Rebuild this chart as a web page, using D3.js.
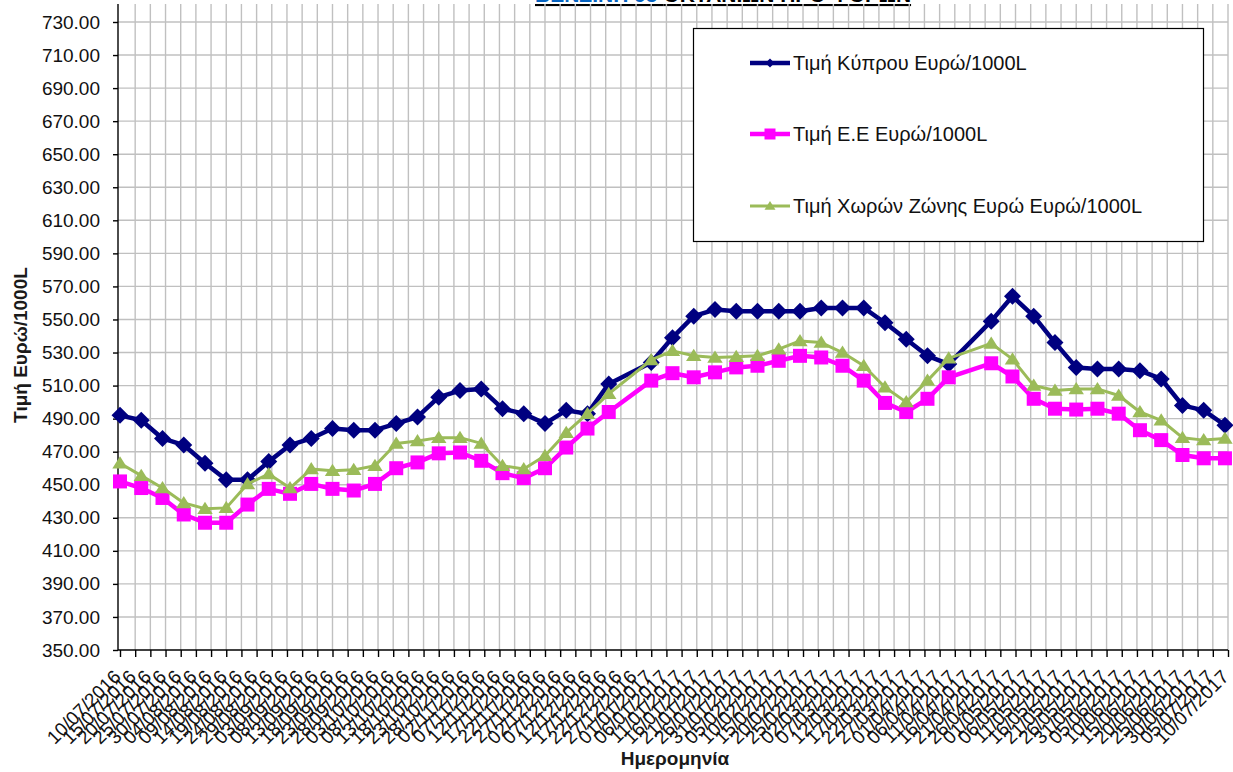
<!DOCTYPE html>
<html>
<head>
<meta charset="utf-8">
<script src="https://cdn.jsdelivr.net/npm/d3@7"></script>
<style>
body { margin: 0; background: #fff; }
text { font-family: "Liberation Sans", Arial, sans-serif; }
</style>
</head>
<body>
<svg id="chart" width="1233" height="772"></svg>
<script>
// weekly observations (no data for 25/12/2016 and 16/04/2017)
var dates = [
    "10/07/2016", "17/07/2016", "24/07/2016", "31/07/2016", "07/08/2016", "14/08/2016", "21/08/2016", "28/08/2016",
    "04/09/2016", "11/09/2016", "18/09/2016", "25/09/2016", "02/10/2016", "09/10/2016", "16/10/2016", "23/10/2016",
    "30/10/2016", "06/11/2016", "13/11/2016", "20/11/2016", "27/11/2016", "04/12/2016", "11/12/2016", "18/12/2016",
    "01/01/2017", "08/01/2017", "15/01/2017", "22/01/2017", "29/01/2017", "05/02/2017", "12/02/2017", "19/02/2017",
    "26/02/2017", "05/03/2017", "12/03/2017", "19/03/2017", "26/03/2017", "02/04/2017", "09/04/2017",
    "23/04/2017", "30/04/2017", "07/05/2017", "14/05/2017", "21/05/2017", "28/05/2017", "04/06/2017", "11/06/2017",
    "18/06/2017", "25/06/2017", "02/07/2017", "09/07/2017"
];

var cyprus = [
    492, 489, 478, 474, 463, 453, 453, 464, 474, 478, 484, 483, 483, 487, 491, 503,
    507, 508, 496, 493, 487, 495, 493, 511,
    524, 539, 552, 556, 555, 555, 555, 555, 557, 557, 557, 548, 538, 528, 523,
    549, 564, 552, 536, 521, 520, 520, 519, 514, 498, 495, 486
];

var eu = [
    452, 448, 442, 432, 427, 427, 438, 447.5, 444.5, 450.5, 447.5, 446.5, 450.5, 460, 463.5, 469,
    469.5, 464.5, 457, 454, 460, 472.5, 484, 494,
    513, 517.5, 515, 518, 521, 522, 525, 528, 527, 522, 513, 499.5, 494, 502, 515,
    523.5, 515.5, 502, 496, 495.5, 496, 493, 483, 477, 468, 466, 466
];

var eurozone = [
    463, 455.5, 448, 439, 435.5, 436, 450.5, 456.5, 448, 459.5, 458.5, 459, 461.5, 475, 476.5, 478.5,
    478.5, 475, 461.5, 459.5, 467.5, 481.5, 493, 505,
    525.5, 531, 528, 527, 527.5, 528, 532, 537, 536, 530, 522, 509, 500, 513, 526.5,
    535.5, 526, 510, 507, 508, 508, 504, 494, 489, 478.5, 477, 478
];

var seriesNames = ["Τιμή Κύπρου Ευρώ/1000L", "Τιμή Ε.Ε Ευρώ/1000L", "Τιμή Χωρών Ζώνης Ευρώ Ευρώ/1000L"];
var seriesColors = ["#000080", "#ff00ff", "#9bbb59"];
var axisStart = "10/07/2016", axisEnd = "10/07/2017";
var yMin = 350, yMax = 730, yStep = 20;

var parseDate = d3.timeParse("%d/%m/%Y");
var formatDate = d3.timeFormat("%d/%m/%Y");

var svg = d3.select("#chart");
var plot = { left: 118, right: 1228, top: 4, bottom: 650 };

var x = d3.scaleTime()
    .domain([parseDate(axisStart), parseDate(axisEnd)])
    .range([plot.left + 2, plot.right]);

var y = d3.scaleLinear()
    .domain([yMin, yMax])
    .range([plot.bottom, 22]);

var xTicks = d3.timeDay.range(parseDate(axisStart), d3.timeDay.offset(parseDate(axisEnd), 1), 5);
var yTicks = d3.range(yMin, yMax + 1, yStep);

// title (mostly cut off at the top edge, as in the source)
var title = svg.append("text")
    .attr("x", 535)
    .attr("y", 2)
    .style("font-size", "21px")
    .style("font-weight", "bold")
    .style("text-decoration", "underline");
title.append("tspan").attr("fill", "#0563c1").text("ΒΕΝΖΙΝΗ 95 ");
title.append("tspan").attr("fill", "#000").text("ΟΚΤΑΝΙΩΝ ΠΡΟ ΦΟΡΩΝ");

// grid
var grid = svg.append("g").attr("class", "grid");
grid.selectAll(".vgrid")
    .data(xTicks.slice(1))
    .enter().append("line")
    .attr("x1", d => x(d)).attr("x2", d => x(d))
    .attr("y1", plot.top).attr("y2", plot.bottom)
    .attr("stroke", "#c0c0c0").attr("stroke-width", 1.4);
grid.selectAll(".hgrid")
    .data(yTicks.slice(1))
    .enter().append("line")
    .attr("x1", plot.left).attr("x2", plot.right)
    .attr("y1", d => y(d)).attr("y2", d => y(d))
    .attr("stroke", "#c0c0c0").attr("stroke-width", 1.4);

// y axis
var yAxis = svg.append("g")
    .attr("transform", `translate(${plot.left},0)`)
    .call(d3.axisLeft(y).tickValues(yTicks).tickSize(5).tickPadding(13).tickFormat(d3.format(".2f")));
yAxis.select(".domain").attr("d", `M0,${plot.top}V${plot.bottom}`).attr("stroke", "#000").attr("stroke-width", 1.4);
yAxis.selectAll(".tick line").attr("stroke", "#000").attr("stroke-width", 1.4);
yAxis.selectAll(".tick text")
    .style("font-size", "19px")
    .style("font-family", "'Liberation Sans', Arial, sans-serif")
    .attr("fill", "#111");

// x axis
var xAxis = svg.append("g")
    .attr("transform", `translate(0,${plot.bottom})`)
    .call(d3.axisBottom(x).tickValues(xTicks).tickSize(7).tickFormat(""));
xAxis.select(".domain").attr("d", `M${plot.left},0H${plot.right}`).attr("stroke", "#000").attr("stroke-width", 1.4);
xAxis.selectAll(".tick line").attr("stroke", "#000").attr("stroke-width", 1.4);

svg.append("g").selectAll("text")
    .data(xTicks)
    .enter().append("text")
    .attr("transform", d => `translate(${x(d) + 2},678) rotate(-45)`)
    .attr("text-anchor", "end")
    .style("font-size", "19px")
    .attr("fill", "#111")
    .text(d => formatDate(d));

// axis titles
svg.append("text")
    .attr("x", 675).attr("y", 765)
    .attr("text-anchor", "middle")
    .style("font-size", "19px").style("font-weight", "bold")
    .attr("fill", "#1a1a1a")
    .text("Ημερομηνία");

svg.append("text")
    .attr("transform", "translate(27,345) rotate(-90)")
    .attr("text-anchor", "middle")
    .style("font-size", "19px").style("font-weight", "bold")
    .attr("fill", "#1a1a1a")
    .text("Τιμή Ευρώ/1000L");

// markers
function diamond(r) { return `M0,${-r}L${r},0L0,${r}L${-r},0Z`; }
function square(r) { return `M${-r},${-r}H${r}V${r}H${-r}Z`; }
function triangle(r) { return `M0,${-r}L${r * 1.1},${r * 0.75}L${-r * 1.1},${r * 0.75}Z`; }

var series = [
    { name: seriesNames[0], values: cyprus, color: seriesColors[0], width: 4.5, shape: diamond, size: 8.5, legendSize: 4.5 },
    { name: seriesNames[1], values: eu, color: seriesColors[1], width: 4.5, shape: square, size: 7, legendSize: 5.5 },
    { name: seriesNames[2], values: eurozone, color: seriesColors[2], width: 3, shape: triangle, size: 7, legendSize: 5 }
];

var line = d3.line()
    .x(d => x(d.date))
    .y(d => y(d.value));

series.forEach(function(s) {
    var pts = dates.map((d, i) => ({ date: parseDate(d), value: s.values[i] }));
    var g = svg.append("g");
    g.append("path")
        .datum(pts)
        .attr("d", line)
        .attr("fill", "none")
        .attr("stroke", s.color)
        .attr("stroke-width", s.width)
        .attr("stroke-linejoin", "round");
    g.selectAll("path.mark")
        .data(pts)
        .enter().append("path")
        .attr("class", "mark")
        .attr("d", s.shape(s.size))
        .attr("transform", d => `translate(${x(d.date)},${y(d.value)})`)
        .attr("fill", s.color);
});

// legend
var legend = svg.append("g");
legend.append("rect")
    .attr("x", 693.5).attr("y", 28.5)
    .attr("width", 510).attr("height", 213)
    .attr("fill", "#fff")
    .attr("stroke", "#000").attr("stroke-width", 1.2);

var legendY = [63, 134, 206];
series.forEach(function(s, i) {
    var row = legend.append("g").attr("transform", `translate(0,${legendY[i]})`);
    row.append("line")
        .attr("x1", 750).attr("x2", 790)
        .attr("stroke", s.color).attr("stroke-width", s.width);
    row.append("path")
        .attr("d", s.shape(s.legendSize))
        .attr("transform", "translate(770,0)")
        .attr("fill", s.color);
    row.append("text")
        .attr("x", 793).attr("dy", "0.35em")
        .style("font-size", "20px")
        .attr("fill", "#111")
        .text(s.name);
});
</script>
</body>
</html>
